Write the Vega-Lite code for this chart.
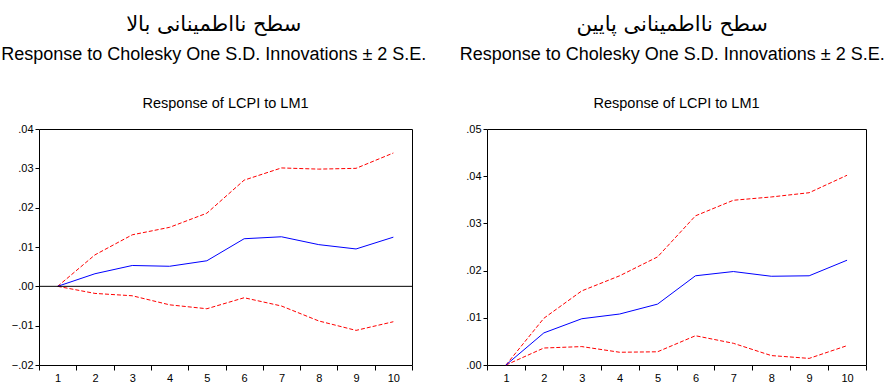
{
  "$schema": "https://vega.github.io/schema/vega-lite/v6.json",
  "background": "white",
  "padding": {"left": 1, "top": 14, "right": 0, "bottom": 0},
  "spacing": 32,
  "datasets": {
    "high": [
      {"step": 1, "response": 0.0, "upper": 0.0, "lower": 0.0},
      {"step": 2, "response": 0.0032, "upper": 0.0080, "lower": -0.0018},
      {"step": 3, "response": 0.0053, "upper": 0.0131, "lower": -0.0024},
      {"step": 4, "response": 0.0051, "upper": 0.0150, "lower": -0.0047},
      {"step": 5, "response": 0.0065, "upper": 0.0186, "lower": -0.0057},
      {"step": 6, "response": 0.0121, "upper": 0.0270, "lower": -0.0029},
      {"step": 7, "response": 0.0126, "upper": 0.0301, "lower": -0.0050},
      {"step": 8, "response": 0.0106, "upper": 0.0298, "lower": -0.0088},
      {"step": 9, "response": 0.0095, "upper": 0.0300, "lower": -0.0112},
      {"step": 10, "response": 0.0125, "upper": 0.0339, "lower": -0.0090}
    ],
    "low": [
      {"step": 1, "response": 0.0, "upper": 0.0, "lower": 0.0},
      {"step": 2, "response": 0.0068, "upper": 0.0099, "lower": 0.0036},
      {"step": 3, "response": 0.0098, "upper": 0.0157, "lower": 0.0039},
      {"step": 4, "response": 0.0108, "upper": 0.0189, "lower": 0.0027},
      {"step": 5, "response": 0.0129, "upper": 0.0229, "lower": 0.0028},
      {"step": 6, "response": 0.0189, "upper": 0.0316, "lower": 0.0062},
      {"step": 7, "response": 0.0198, "upper": 0.0349, "lower": 0.0046},
      {"step": 8, "response": 0.0188, "upper": 0.0356, "lower": 0.0020},
      {"step": 9, "response": 0.0189, "upper": 0.0365, "lower": 0.0014},
      {"step": 10, "response": 0.0222, "upper": 0.0402, "lower": 0.0041}
    ],
    "zero": [{"y": 0}]
  },
  "config": {
    "view": {"stroke": "black", "strokeWidth": 1},
    "axis": {
      "grid": false,
      "domain": false,
      "tickColor": "black",
      "labelColor": "black",
      "labelFont": "Liberation Sans",
      "labelFontSize": 11,
      "labelOverlap": false,
      "title": null
    },
    "axisX": {"tickSize": 5, "labelAngle": 0, "labelPadding": 2, "tickBand": "extent"},
    "axisY": {"tickSize": 4, "labelPadding": 2, "labelExpr": "replace(format(datum.value, '.2f'), '0.', '.')"}
  },
  "hconcat": [
    {
      "title": {
        "text": "سطح نااطمینانی بالا",
        "font": "DejaVu Sans",
        "fontSize": 21,
        "fontWeight": "normal",
        "color": "black",
        "subtitle": "Response to Cholesky One S.D. Innovations ± 2 S.E.",
        "subtitleFont": "Liberation Sans",
        "subtitleFontSize": 18,
        "subtitleColor": "black",
        "subtitlePadding": 11,
        "offset": 31,
        "anchor": "start",
        "align": "center",
        "dx": 203
      },
      "vconcat": [
        {
          "width": 373,
          "height": 236,
          "title": {"text": "Response of LCPI to LM1", "font": "Liberation Sans", "fontSize": 14.5, "fontWeight": "normal", "color": "black", "offset": 12, "anchor": "middle"},
          "data": {"name": "high"},
          "encoding": {
            "x": {"field": "step", "type": "ordinal", "scale": {"type": "band", "paddingInner": 0, "paddingOuter": 0}}
          },
          "layer": [
            {
              "mark": {"type": "line", "color": "#ff0000", "strokeWidth": 1, "strokeDash": [4, 2]},
              "encoding": {"y": {"field": "upper", "type": "quantitative", "scale": {"domain": [-0.02, 0.04], "nice": false, "zero": false}, "axis": {"tickCount": 7}}}
            },
            {
              "mark": {"type": "line", "color": "#ff0000", "strokeWidth": 1, "strokeDash": [4, 2]},
              "encoding": {"y": {"field": "lower", "type": "quantitative"}}
            },
            {
              "mark": {"type": "line", "color": "#0000ff", "strokeWidth": 1},
              "encoding": {"y": {"field": "response", "type": "quantitative"}}
            },
            {
              "data": {"name": "zero"},
              "mark": {"type": "rule", "color": "black", "strokeWidth": 1},
              "encoding": {"x": null, "y": {"field": "y", "type": "quantitative"}}
            }
          ]
        }
      ]
    },
    {
      "title": {
        "text": "سطح نااطمینانی پایین",
        "font": "DejaVu Sans",
        "fontSize": 21,
        "fontWeight": "normal",
        "color": "black",
        "subtitle": "Response to Cholesky One S.D. Innovations ± 2 S.E.",
        "subtitleFont": "Liberation Sans",
        "subtitleFontSize": 18,
        "subtitleColor": "black",
        "subtitlePadding": 11,
        "offset": 31,
        "anchor": "start",
        "align": "center",
        "dx": 207
      },
      "vconcat": [
        {
          "width": 379,
          "height": 236,
          "title": {"text": "Response of LCPI to LM1", "font": "Liberation Sans", "fontSize": 14.5, "fontWeight": "normal", "color": "black", "offset": 12, "anchor": "middle"},
          "data": {"name": "low"},
          "encoding": {
            "x": {"field": "step", "type": "ordinal", "scale": {"type": "band", "paddingInner": 0, "paddingOuter": 0}}
          },
          "layer": [
            {
              "mark": {"type": "line", "color": "#ff0000", "strokeWidth": 1, "strokeDash": [4, 2]},
              "encoding": {"y": {"field": "upper", "type": "quantitative", "scale": {"domain": [0, 0.05], "nice": false}, "axis": {"tickCount": 5}}}
            },
            {
              "mark": {"type": "line", "color": "#ff0000", "strokeWidth": 1, "strokeDash": [4, 2]},
              "encoding": {"y": {"field": "lower", "type": "quantitative"}}
            },
            {
              "mark": {"type": "line", "color": "#0000ff", "strokeWidth": 1},
              "encoding": {"y": {"field": "response", "type": "quantitative"}}
            }
          ]
        }
      ]
    }
  ]
}
